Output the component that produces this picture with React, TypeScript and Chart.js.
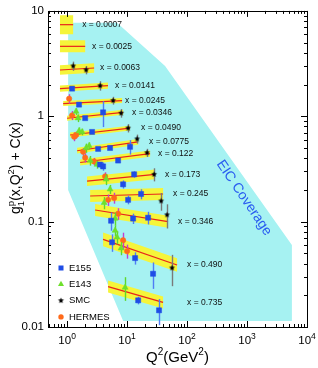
import React, { useEffect, useRef } from 'react';
import { Chart, registerables } from 'chart.js';

Chart.register(...registerables);

const FONT = '"Liberation Sans", Arial, Helvetica, sans-serif';

// ---- x bins: fitted curve (red) with its error band (yellow) ----
const binLabels = ['0.0007', '0.0025', '0.0063', '0.0141', '0.0245', '0.0346', '0.0490', '0.0775', '0.122', '0.173', '0.245', '0.346', '0.490', '0.735'];
const bandQ2Lo = [0.76, 0.76, 0.76, 0.76, 0.86, 1.0, 1.12, 1.47, 1.65, 2.15, 2.42, 2.93, 3.98, 4.82];
const bandQ2Hi = [1.26, 2.0, 2.82, 4.8, 8.25, 8.6, 11.2, 15.3, 24.2, 29.3, 39.8, 48.2, 68.1, 39.8];
const fitLo = [7.4, 4.61, 2.75, 1.83, 1.32, 0.958, 0.664, 0.471, 0.364, 0.242, 0.175, 0.129, 0.0679, 0.0242];
const fitHi = [7.4, 4.61, 2.87, 1.95, 1.41, 1.09, 0.772, 0.571, 0.442, 0.281, 0.183, 0.1, 0.0388, 0.0171];
const bandFactor = [1.23, 1.14, 1.11, 1.07, 1.055, 1.055, 1.055, 1.065, 1.07, 1.11, 1.14, 1.14, 1.16, 1.14];
const labelQ2 = [1.78, 2.61, 3.55, 6.31, 9.26, 12.1, 17.1, 23.3, 32.8, 43, 58.5, 70.8, 100, 100];

// ---- EIC coverage region ----
const eicQ2 = [1.04, 6.8, 43, 5600, 5600, 8.6, 1.04];
const eicG1 = [7.7, 7.7, 3.0, 0.06, 0.0114, 0.0114, 0.2];
const eicText = 'EIC Coverage';
const eicTextQ2 = 891;
const eicTextG1 = 0.168;

// ---- experimental data: [Q2, g1 + C(x), error] ----
const e155: number[][] = [
  [1.21, 1.83, 0.05], [1.58, 1.29, 0.04], [2.0, 0.96, 0.03], [3.98, 1.09, 0.3],
  [2.61, 0.71, 0.02], [3.29, 0.49, 0.02], [5.2, 0.5, 0.02], [11.2, 0.513, 0.08],
  [3.55, 0.348, 0.02], [7.08, 0.38, 0.02], [3.98, 0.334, 0.03], [8.58, 0.226, 0.02],
  [13.1, 0.281, 0.02], [10.4, 0.161, 0.015], [17.1, 0.183, 0.02], [5.41, 0.102, 0.02],
  [12.6, 0.107, 0.012], [22.4, 0.109, 0.015], [5.62, 0.0637, 0.012], [13.6, 0.0451, 0.006],
  [27.1, 0.032, 0.009], [15.3, 0.0179, 0.0015], [34.1, 0.0144, 0.004],
];
const e143: number[][] = [
  [1.41, 1.11, 0.08], [1.52, 0.96, 0.08], [1.58, 0.724, 0.06], [1.78, 0.71, 0.05],
  [2.07, 0.5, 0.05], [2.33, 0.525, 0.04], [2.42, 0.38, 0.04], [3.16, 0.348, 0.03],
  [4.47, 0.252, 0.03], [4.14, 0.151, 0.02], [5.2, 0.203, 0.02], [6.31, 0.107, 0.015],
  [6.31, 0.0824, 0.01], [6.81, 0.0709, 0.01], [7.94, 0.056, 0.008], [9.26, 0.0237, 0.006],
];
const smc: number[][] = [
  [1.26, 3.0, 0.3], [2.07, 2.75, 0.25], [3.55, 1.95, 0.2], [5.85, 1.41, 0.12],
  [7.94, 1.07, 0.1], [10.4, 0.772, 0.07], [14.7, 0.61, 0.06], [21.5, 0.451, 0.04],
  [28.2, 0.281, 0.04], [36.9, 0.157, 0.03], [46.4, 0.116, 0.03], [56.2, 0.0364, 0.012],
];
const hermes: number[][] = [
  [1.08, 1.47, 0.15], [1.21, 1.02, 0.1], [1.31, 0.64, 0.06], [1.41, 0.664, 0.05],
  [1.85, 0.46, 0.04], [2.0, 0.405, 0.04], [2.82, 0.372, 0.03], [4.3, 0.269, 0.025],
  [4.82, 0.161, 0.02], [6.07, 0.168, 0.02], [7.08, 0.119, 0.015], [8.58, 0.0665, 0.012],
  [10, 0.0525, 0.008],
];

const xTickPowers = [0, 1, 2, 3, 4];
const yTickValues = [0.01, 0.1, 1, 10];
const yTickLabels = ['0.01', '0.1', '1', '10'];
const legendNames = ['E155', 'E143', 'SMC', 'HERMES'];

const CYAN = '#a6f2f2';
const YELLOW = '#f5f53a';
const RED = '#e8231c';
const BLUE = '#1f4de6';
const GREEN = '#6ee02c';
const ORANGE = '#ff6a1a';

function makeStar(r: number) {
  const c = document.createElement('canvas');
  const s = Math.ceil(r * 2 + 2);
  c.width = s;
  c.height = s;
  const g = c.getContext('2d')!;
  g.fillStyle = '#000';
  g.beginPath();
  for (let i = 0; i < 10; i++) {
    const rr = i % 2 === 0 ? r : r * 0.45;
    const a = -Math.PI / 2 + (i * Math.PI) / 5;
    g.lineTo(s / 2 + rr * Math.cos(a), s / 2 + rr * Math.sin(a));
  }
  g.closePath();
  g.fill();
  return c;
}

export default function App() {
  const ref = useRef<HTMLCanvasElement>(null);

  useEffect(() => {
    document.body.style.margin = '0';
    const star = makeStar(3.1);

    const datasets: any[] = [];
    datasets.push({
      type: 'line',
      data: eicQ2.map((x, i) => ({ x, y: eicG1[i] })),
      fill: 'shape',
      backgroundColor: CYAN,
      borderWidth: 0,
      pointRadius: 0,
      order: 100,
    });
    binLabels.forEach((_, i) => {
      const f = bandFactor[i];
      datasets.push({
        type: 'line',
        data: [
          { x: bandQ2Lo[i], y: fitLo[i] * f },
          { x: bandQ2Hi[i], y: fitHi[i] * f },
          { x: bandQ2Hi[i], y: fitHi[i] / f },
          { x: bandQ2Lo[i], y: fitLo[i] / f },
        ],
        fill: 'shape',
        backgroundColor: YELLOW,
        borderWidth: 0,
        pointRadius: 0,
        order: 50,
      });
      datasets.push({
        type: 'line',
        data: [
          { x: bandQ2Lo[i], y: fitLo[i] },
          { x: bandQ2Hi[i], y: fitHi[i] },
        ],
        fill: false,
        borderColor: RED,
        borderWidth: 1.2,
        pointRadius: 0,
        order: 40,
      });
    });
    const exps = [
      { d: e155, style: 'rect', r: 3.6, color: BLUE, err: '#4f7df5' },
      { d: e143, style: 'triangle', r: 3.5, color: GREEN, err: '#5fd82a' },
      { d: smc, style: star, r: 3.1, color: '#000', err: '#7a7a7a' },
      { d: hermes, style: 'circle', r: 2.7, color: ORANGE, err: '#c040d0' },
    ];
    exps.forEach((e, k) => {
      datasets.push({
        type: 'scatter',
        data: e.d.map((p) => ({ x: p[0], y: p[1] })),
        errors: e.d.map((p) => p[2]),
        errorColor: e.err,
        pointStyle: e.style,
        pointRadius: e.r,
        backgroundColor: e.color,
        borderColor: e.color,
        borderWidth: 0.5,
        order: 10 + k,
      });
    });

    const decor = {
      id: 'decor',
      beforeDatasetDraw(chart: any, args: any) {
        const ds = chart.data.datasets[args.index];
        if (!ds.errors) return;
        const { ctx, chartArea } = chart;
        const xs = chart.scales.x;
        const ys = chart.scales.y;
        ctx.save();
        ctx.beginPath();
        ctx.rect(chartArea.left, chartArea.top, chartArea.right - chartArea.left, chartArea.bottom - chartArea.top);
        ctx.clip();
        ctx.strokeStyle = ds.errorColor;
        ctx.lineWidth = 1.4;
        ds.data.forEach((p: any, i: number) => {
          const e = ds.errors[i];
          const px = Math.round(xs.getPixelForValue(p.x)) + 0.5;
          ctx.beginPath();
          ctx.moveTo(px, ys.getPixelForValue(p.y + e));
          ctx.lineTo(px, ys.getPixelForValue(Math.max(p.y - e, 1e-4)));
          ctx.stroke();
        });
        ctx.restore();
      },
      afterDatasetsDraw(chart: any) {
        const { ctx } = chart;
        const xs = chart.scales.x;
        const ys = chart.scales.y;
        ctx.save();
        // bin labels
        ctx.fillStyle = '#111';
        ctx.font = `8.5px ${FONT}`;
        ctx.textBaseline = 'middle';
        ctx.textAlign = 'left';
        binLabels.forEach((b, i) => {
          ctx.fillText(`x = ${b}`, xs.getPixelForValue(labelQ2[i]), ys.getPixelForValue(fitHi[i]));
        });
        // EIC coverage text
        ctx.save();
        ctx.translate(xs.getPixelForValue(eicTextQ2), ys.getPixelForValue(eicTextG1));
        ctx.rotate((55.9 * Math.PI) / 180);
        ctx.fillStyle = '#2a5cf0';
        ctx.font = `14px ${FONT}`;
        ctx.textAlign = 'center';
        ctx.fillText(eicText, 0, 0);
        ctx.restore();
        ctx.restore();
      },
      afterDraw(chart: any) {
        const { ctx, chartArea } = chart;
        const { left, right, top, bottom } = chartArea;
        const xs = chart.scales.x;
        const ys = chart.scales.y;
        ctx.save();
        ctx.strokeStyle = '#000';
        ctx.lineWidth = 1;
        ctx.strokeRect(Math.round(left) + 0.5, Math.round(top) + 0.5, Math.round(right - left), Math.round(bottom - top));
        ctx.beginPath();
        for (let d = -1; d <= 4; d++) {
          for (let m = 1; m <= 9; m++) {
            const v = m * Math.pow(10, d);
            if (v < xs.min || v > xs.max) continue;
            const px = Math.round(xs.getPixelForValue(v)) + 0.5;
            const len = m === 1 ? 6 : 3;
            ctx.moveTo(px, bottom);
            ctx.lineTo(px, bottom - len);
            ctx.moveTo(px, top);
            ctx.lineTo(px, top + len);
          }
        }
        for (let d = -2; d <= 1; d++) {
          for (let m = 1; m <= 9; m++) {
            const v = m * Math.pow(10, d);
            if (v < ys.min * 0.999 || v > ys.max * 1.001) continue;
            const py = Math.round(ys.getPixelForValue(v)) + 0.5;
            const len = m === 1 ? 6 : 3;
            ctx.moveTo(left, py);
            ctx.lineTo(left + len, py);
            ctx.moveTo(right, py);
            ctx.lineTo(right - len, py);
          }
        }
        ctx.stroke();

        // x tick labels 10^n
        ctx.fillStyle = '#000';
        ctx.textBaseline = 'alphabetic';
        ctx.textAlign = 'left';
        xTickPowers.forEach((p) => {
          const px = xs.getPixelForValue(Math.pow(10, p));
          ctx.font = `11.5px ${FONT}`;
          const w1 = ctx.measureText('10').width;
          ctx.font = `8.5px ${FONT}`;
          const w2 = ctx.measureText(String(p)).width;
          const x0 = px - (w1 + w2) / 2;
          ctx.font = `11.5px ${FONT}`;
          ctx.fillText('10', x0, bottom + 17);
          ctx.font = `8.5px ${FONT}`;
          ctx.fillText(String(p), x0 + w1, bottom + 12);
        });

        // rich text helper: [text, size, dy, advance?]
        const drawRich = (parts: [string, number, number, boolean][], cx: number, cy: number, rot: number) => {
          ctx.save();
          ctx.translate(cx, cy);
          ctx.rotate(rot);
          let total = 0;
          parts.forEach(([t, size, , adv]) => {
            ctx.font = `${size}px ${FONT}`;
            if (adv) total += ctx.measureText(t).width;
          });
          let x = -total / 2;
          parts.forEach(([t, size, dy, adv]) => {
            ctx.font = `${size}px ${FONT}`;
            ctx.fillText(t, x, dy);
            if (adv) x += ctx.measureText(t).width;
          });
          ctx.restore();
        };
        // x title
        drawRich(
          [['Q', 15, 0, true], ['2', 10, -7, true], ['(GeV', 15, 0, true], ['2', 10, -7, true], [')', 15, 0, true]],
          (left + right) / 2,
          bottom + 35,
          0
        );
        // y title
        drawRich(
          [['g', 14, 0, true], ['1', 9.5, 3.5, false], ['p', 9.5, -6.5, true], ['(x,Q', 14, 0, true], ['2', 9.5, -6.5, true], [') + C(x)', 14, 0, true]],
          20,
          168,
          -Math.PI / 2
        );

        // legend
        const colors = [BLUE, GREEN, '#000', ORANGE];
        legendNames.forEach((name, i) => {
          const lx = left + 13;
          const ly = bottom - 59 + i * 16.3;
          ctx.fillStyle = colors[i];
          if (i === 0) {
            ctx.fillRect(lx - 2.5, ly - 2.5, 5, 5);
          } else if (i === 1) {
            ctx.beginPath();
            ctx.moveTo(lx, ly - 3.5);
            ctx.lineTo(lx + 3, ly + 1.8);
            ctx.lineTo(lx - 3, ly + 1.8);
            ctx.closePath();
            ctx.fill();
          } else if (i === 2) {
            ctx.drawImage(star, lx - star.width / 2, ly - star.height / 2);
          } else {
            ctx.beginPath();
            ctx.arc(lx, ly, 2.7, 0, Math.PI * 2);
            ctx.fill();
          }
          ctx.fillStyle = '#000';
          ctx.font = `9.5px ${FONT}`;
          ctx.textBaseline = 'middle';
          ctx.fillText(name, lx + 8, ly);
          ctx.textBaseline = 'alphabetic';
        });
        ctx.restore();
      },
    };

    const chart = new Chart(ref.current!, {
      type: 'scatter',
      data: { datasets },
      options: {
        responsive: false,
        animation: false,
        events: [],
        layout: { padding: { top: 7, right: 11, bottom: 0, left: 0 } },
        plugins: { legend: { display: false }, tooltip: { enabled: false } },
        scales: {
          x: {
            type: 'logarithmic',
            min: 0.48,
            max: 10000,
            grid: { display: false, drawTicks: false },
            border: { display: false },
            ticks: { display: false },
            afterFit: (s: any) => {
              s.height = 41;
            },
          },
          y: {
            type: 'logarithmic',
            min: 0.01,
            max: 10,
            grid: { display: false, drawTicks: false },
            border: { display: false },
            afterBuildTicks: (s: any) => {
              s.ticks = yTickValues.map((v) => ({ value: v }));
            },
            ticks: {
              color: '#000',
              padding: 4,
              font: { family: FONT, size: 11.5 },
              autoSkip: false,
              callback: (_v: any, i: number) => yTickLabels[i],
            },
            afterFit: (s: any) => {
              s.width = 48;
            },
          },
        },
      } as any,
      plugins: [decor],
    });
    return () => chart.destroy();
  }, []);

  return (
    <div style={{ width: 318, height: 368 }}>
      <canvas ref={ref} width={318} height={368} />
    </div>
  );
}
